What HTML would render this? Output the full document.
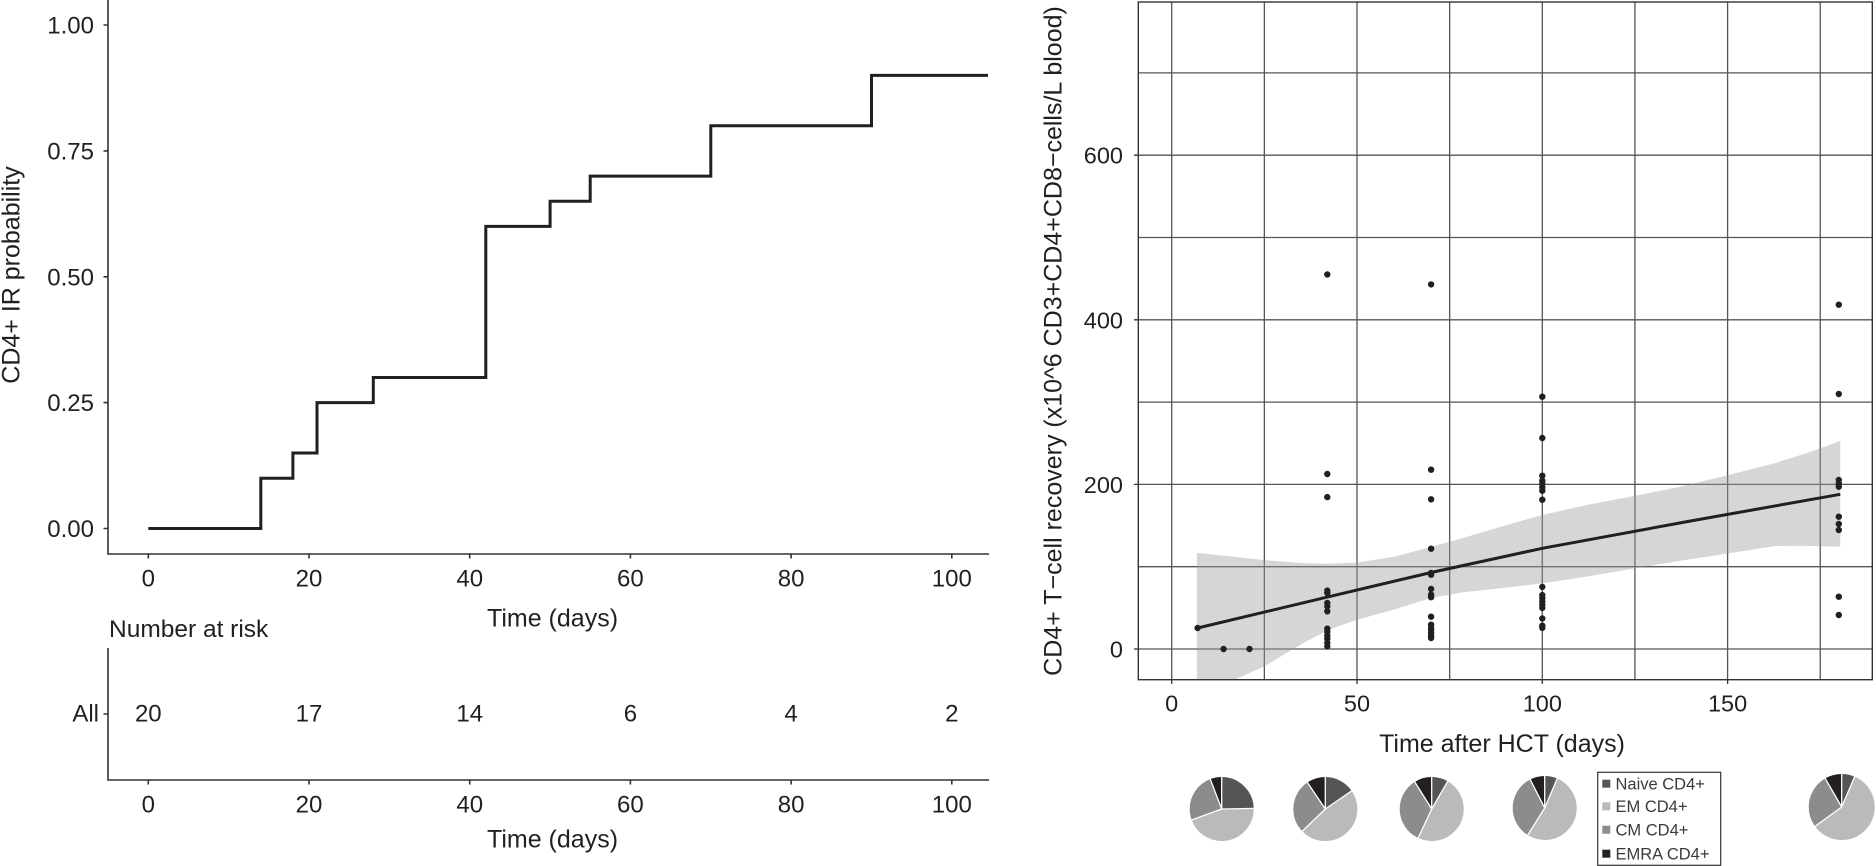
<!DOCTYPE html>
<html><head><meta charset="utf-8"><style>
html,body{margin:0;padding:0;background:#fff;}
svg{display:block;}
text{font-family:"Liberation Sans",Arial,sans-serif;fill:#231f20;}
</style></head><body>
<svg width="1876" height="866" viewBox="0 0 1876 866" xmlns="http://www.w3.org/2000/svg">
<defs><clipPath id="pc"><rect x="1138.3" y="2" width="734" height="677.7"/></clipPath></defs>

<path fill="none" stroke="#333" stroke-width="1.6" d="M108 0V554.5M107.2 554H989M103.5 25H108M103.5 150.9H108M103.5 276.8H108M103.5 402.6H108M103.5 528.5H108M148.3 554v4.5M309 554v4.5M469.7 554v4.5M630.4 554v4.5M791.1 554v4.5M951.8 554v4.5M108 648V780.5M107.2 780H989M103.5 714H108M148.3 780v4.5M309 780v4.5M469.7 780v4.5M630.4 780v4.5M791.1 780v4.5M951.8 780v4.5"/>
<path d="M148.3,528.5 H260.8 V478.2 H292.9 V453.0 H317.0 V402.6 H373.3 V377.5 H485.8 V226.4 H550.1 V201.3 H590.2 V176.1 H710.8 V125.7 H871.5 V75.35 H988" fill="none" stroke="#231f20" stroke-width="3"/>

<g font-size="24" text-anchor="end">
  <text x="94" y="33.6">1.00</text>
  <text x="94" y="159.5">0.75</text>
  <text x="94" y="285.4">0.50</text>
  <text x="94" y="411.2">0.25</text>
  <text x="94" y="537.1">0.00</text>
  <text x="99" y="721.3">All</text>
</g>
<g font-size="24" text-anchor="middle">
  <text x="148.3" y="586.5">0</text><text x="309" y="586.5">20</text><text x="469.7" y="586.5">40</text>
  <text x="630.4" y="586.5">60</text><text x="791.1" y="586.5">80</text><text x="951.8" y="586.5">100</text>
  <text x="148.3" y="721.3">20</text><text x="309" y="721.3">17</text><text x="469.7" y="721.3">14</text>
  <text x="630.4" y="721.3">6</text><text x="791.1" y="721.3">4</text><text x="951.8" y="721.3">2</text>
  <text x="148.3" y="812.3">0</text><text x="309" y="812.3">20</text><text x="469.7" y="812.3">40</text>
  <text x="630.4" y="812.3">60</text><text x="791.1" y="812.3">80</text><text x="951.8" y="812.3">100</text>
</g>
<text x="552.5" y="626.7" font-size="25" text-anchor="middle">Time (days)</text>
<text x="552.5" y="847.3" font-size="25" text-anchor="middle">Time (days)</text>
<text x="109" y="637" font-size="24.5">Number at risk</text>
<text transform="translate(19.5,275) rotate(-90)" font-size="25" text-anchor="middle">CD4+ IR probability</text>

<path fill="none" stroke="#555" stroke-width="1.3" d="M1171.7 2V679.7M1264.35 2V679.7M1357 2V679.7M1449.65 2V679.7M1542.3 2V679.7M1634.95 2V679.7M1727.6 2V679.7M1820.25 2V679.7M1138.3 649H1872.3M1138.3 566.7H1872.3M1138.3 484.4H1872.3M1138.3 402.1H1872.3M1138.3 319.8H1872.3M1138.3 237.5H1872.3M1138.3 155.2H1872.3M1138.3 72.9H1872.3"/>
<polygon clip-path="url(#pc)" fill="#999" fill-opacity="0.4" points="1196.9,553.0 1227.3,556.0 1264.4,560.1 1301.4,563.0 1327.3,563.7 1357.0,562.6 1394.1,556.8 1431.1,546.9 1463.4,537.9 1505.2,525.5 1542.3,515.0 1586.8,505.0 1634.95,495.9 1679.4,486.9 1727.6,475.3 1774.3,463.3 1809.1,452.3 1840.3,441.0 1840.3,546.7 1801.7,545.7 1774.3,546.1 1727.6,553.5 1679.4,560.9 1634.95,568.3 1586.8,576.6 1542.3,583.3 1505.2,587.7 1463.4,592.3 1431.1,598.0 1394.1,609.5 1357.0,619.7 1327.3,630.3 1301.4,644.1 1264.4,666.3 1233.2,680.3 1208.8,698.4 1196.9,710.7"/>
<polyline fill="none" stroke="#231f20" stroke-width="3" points="1197.6,628.0 1327.3,597.1 1431.1,572.5 1542.3,548.3 1690.5,521.0 1840.3,494.3"/>
<path fill="none" stroke="#231f20" stroke-width="6.4" stroke-linecap="round" d="M1197.6 628h0M1223.6 649h0M1249.5 649h0
M1327.3 274.5h0M1327.3 474h0M1327.3 497.1h0M1327.3 590.6h0M1327.3 593h0M1327.3 603h0M1327.3 606.4h0M1327.3 611.3h0M1327.3 628.7h0M1327.3 632h0M1327.3 635.7h0M1327.3 639h0M1327.3 643h0M1327.3 646.4h0
M1431.1 284.4h0M1431.1 469.7h0M1431.1 499.3h0M1431.1 548.7h0M1431.1 573h0M1431.1 574.7h0M1431.1 589h0M1431.1 594.7h0M1431.1 597.2h0M1431.1 616.7h0M1431.1 624.7h0M1431.1 627.4h0M1431.1 629.7h0M1431.1 633h0M1431.1 635.7h0M1431.1 638h0
M1542.3 396.7h0M1542.3 438h0M1542.3 475.7h0M1542.3 480.7h0M1542.3 484h0M1542.3 487.3h0M1542.3 490.7h0M1542.3 499.7h0M1542.3 586.9h0M1542.3 595.1h0M1542.3 598.1h0M1542.3 601.4h0M1542.3 604.6h0M1542.3 607.9h0M1542.3 618.5h0M1542.3 625.7h0M1542.3 627.8h0
M1838.8 304.7h0M1838.8 394h0M1838.8 480h0M1838.8 483.3h0M1838.8 486.7h0M1838.8 516.7h0M1838.8 524h0M1838.8 530h0M1838.8 596.7h0M1838.8 615h0"/>
<rect x="1138.3" y="2" width="734" height="677.7" fill="none" stroke="#333" stroke-width="1.4"/>
<path fill="none" stroke="#333" stroke-width="1.3" d="M1134 649h4.3M1134 484.4h4.3M1134 319.8h4.3M1134 155.2h4.3M1171.7 679.7v4.3M1357 679.7v4.3M1542.3 679.7v4.3M1727.6 679.7v4.3"/>
<g font-size="23.5" text-anchor="end">
  <text x="1123" y="657.5">0</text><text x="1123" y="492.9">200</text><text x="1123" y="328.3">400</text><text x="1123" y="163.7">600</text>
</g>
<g font-size="23.5" text-anchor="middle">
  <text x="1171.7" y="711.3">0</text><text x="1357" y="711.3">50</text><text x="1542.3" y="711.3">100</text><text x="1727.6" y="711.3">150</text>
</g>
<text x="1502" y="752" font-size="25" text-anchor="middle">Time after HCT (days)</text>
<text transform="translate(1061.5,341) rotate(-90)" font-size="25" text-anchor="middle">CD4+ T−cell recovery (x10^6 CD3+CD4+CD8−cells/L blood)</text>

<g fill="none" stroke-width="32">
  <g transform="translate(1221.7,809) rotate(-90)">
    <circle r="16" stroke="#555557" stroke-dasharray="24.85 200"/>
    <circle r="16" stroke="#b9babc" stroke-dasharray="44.96 200" stroke-dashoffset="-24.85"/>
    <circle r="16" stroke="#8b8c8e" stroke-dasharray="24.85 200" stroke-dashoffset="-69.81"/>
    <circle r="16" stroke="#231f20" stroke-dasharray="5.86 200" stroke-dashoffset="-94.67"/>
  </g>
  <g transform="translate(1325.3,809) rotate(-90)">
    <circle r="16" stroke="#555557" stroke-dasharray="15.50 200"/>
    <circle r="16" stroke="#b9babc" stroke-dasharray="47.61 200" stroke-dashoffset="-15.50"/>
    <circle r="16" stroke="#8b8c8e" stroke-dasharray="27.93 200" stroke-dashoffset="-63.11"/>
    <circle r="16" stroke="#231f20" stroke-dasharray="9.49 200" stroke-dashoffset="-91.04"/>
  </g>
  <g transform="translate(1431.7,809) rotate(-90)">
    <circle r="16" stroke="#555557" stroke-dasharray="8.38 200"/>
    <circle r="16" stroke="#b9babc" stroke-dasharray="48.87 200" stroke-dashoffset="-8.38"/>
    <circle r="16" stroke="#8b8c8e" stroke-dasharray="34.35 200" stroke-dashoffset="-57.25"/>
    <circle r="16" stroke="#231f20" stroke-dasharray="8.94 200" stroke-dashoffset="-91.59"/>
  </g>
  <g transform="translate(1544.7,808) rotate(-90)">
    <circle r="16" stroke="#555557" stroke-dasharray="6.42 200"/>
    <circle r="16" stroke="#b9babc" stroke-dasharray="52.78 200" stroke-dashoffset="-6.42"/>
    <circle r="16" stroke="#8b8c8e" stroke-dasharray="33.79 200" stroke-dashoffset="-59.20"/>
    <circle r="16" stroke="#231f20" stroke-dasharray="7.54 200" stroke-dashoffset="-92.99"/>
  </g>
  <g transform="translate(1841.7,807) rotate(-90)" stroke-width="33">
    <circle r="16.5" stroke="#555557" stroke-dasharray="6.62 200"/>
    <circle r="16.5" stroke="#b9babc" stroke-dasharray="60.76 200" stroke-dashoffset="-6.62"/>
    <circle r="16.5" stroke="#8b8c8e" stroke-dasharray="27.65 200" stroke-dashoffset="-67.39"/>
    <circle r="16.5" stroke="#231f20" stroke-dasharray="8.64 200" stroke-dashoffset="-95.03"/>
  </g>
</g>
<path fill="none" stroke="#fff" stroke-width="1.3" d="M1221.7 809V776M1221.7 809L1254.7 808.4M1221.7 809L1190.7 820.3M1221.7 809L1209.9 778.2M1325.3 809V776M1325.3 809L1352.5 790.3M1325.3 809L1301.6 831.9M1325.3 809L1306.8 781.6M1431.7 809V776M1431.7 809L1448.2 780.4M1431.7 809L1417.8 838.9M1431.7 809L1414.2 781M1544.7 808V775M1544.7 808L1557.6 777.6M1544.7 808L1527.2 836M1544.7 808L1529.7 778.6M1841.7 807V773M1841.7 807L1855 775.7M1841.7 807L1814.2 827M1841.7 807L1824.7 777.6"/>

<rect x="1597.7" y="772.3" width="123" height="93" fill="#fff" stroke="#333" stroke-width="1.2"/>
<rect x="1602.3" y="779.7" width="8" height="8" fill="#555557"/>
<rect x="1602.3" y="802.3" width="8" height="8" fill="#b9babc"/>
<rect x="1602.3" y="825.7" width="8" height="8" fill="#8b8c8e"/>
<rect x="1602.3" y="849.7" width="8" height="8" fill="#231f20"/>
<g font-size="16.5">
  <text x="1615.5" y="789.6" style="fill:#3a3a3a">Naive CD4+</text>
  <text x="1615.5" y="812.2" style="fill:#3a3a3a">EM CD4+</text>
  <text x="1615.5" y="835.6" style="fill:#3a3a3a">CM CD4+</text>
  <text x="1615.5" y="859.6" style="fill:#3a3a3a">EMRA CD4+</text>
</g>
</svg>
</body></html>
